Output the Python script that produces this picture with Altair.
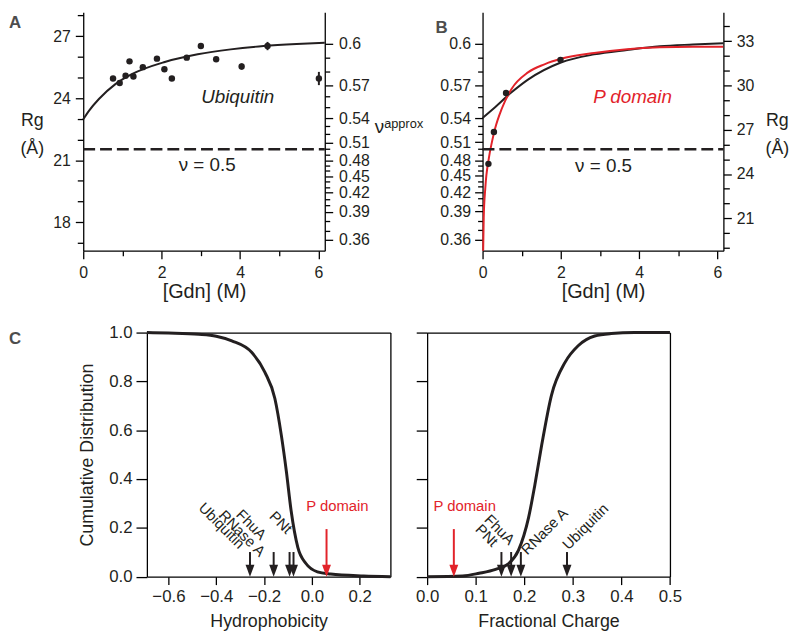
import altair as alt
import pandas as pd

# ---------------- data ----------------
# Panel A : Ubiquitin, Rg (Å) versus [Gdn] (M)
a_gdn = [0.76, 0.93, 1.08, 1.18, 1.28, 1.52, 1.88, 2.07, 2.26, 2.64, 3.00, 3.39, 4.04, 4.70, 6.01]
a_rg = [24.95, 24.73, 25.08, 25.78, 25.05, 25.50, 25.91, 25.40, 24.95, 25.96, 26.52, 25.88, 25.53, 26.52, 24.95]
a_err = [0.05, 0.05, 0.05, 0.05, 0.05, 0.05, 0.05, 0.05, 0.05, 0.05, 0.07, 0.07, 0.15, 0.20, 0.32]
a_fit_gdn = [0.0, 0.15, 0.4, 0.82, 1.24, 2.08, 2.92, 3.76, 4.6, 5.44, 6.16]
a_fit_rg = [22.98, 23.40, 23.96, 24.68, 25.16, 25.75, 26.12, 26.36, 26.52, 26.62, 26.68]
a_nu_half_rg = 21.53

# Panel B : P domain
b_gdn = [0.15, 0.29, 0.60, 1.99]
b_rg = [24.69, 26.85, 29.49, 31.73]
b_black_gdn = [0.0, 0.32, 0.74, 1.16, 2.0, 2.85, 3.69, 4.53, 5.37, 6.15]
b_black_rg = [27.79, 28.53, 29.53, 30.39, 31.55, 32.10, 32.40, 32.65, 32.77, 32.86]
b_red_gdn = [0.01, 0.03, 0.07, 0.16, 0.24, 0.32, 0.49, 0.74, 1.16, 1.58, 2.0, 2.85, 3.69, 4.53, 5.37, 6.15]
b_red_rg = [18.0, 21.04, 23.05, 25.06, 26.18, 27.08, 28.42, 29.76, 30.88, 31.43, 31.80, 32.20, 32.45, 32.58, 32.62, 32.62]
b_nu_half_rg = 25.68

# nu (approx) tick labels and where they sit on each Rg axis
nu_labels = ["0.6", "0.57", "0.54", "0.51", "0.48", "0.45", "0.42", "0.39", "0.36"]
a_nu_rg = [26.65, 24.60, 23.02, 21.86, 20.98, 20.23, 19.44, 18.51, 17.14]
b_nu_rg = [32.84, 29.98, 27.77, 26.15, 24.91, 23.87, 22.77, 21.46, 19.55]

# Panel C : cumulative distributions
hyd_x = [-0.69, -0.6, -0.473, -0.4, -0.335, -0.252, -0.197, -0.155, -0.128, -0.107,
         -0.087, -0.059, -0.025, 0.023, 0.078, 0.216, 0.328]
hyd_cdf = [1.0, 0.998, 0.993, 0.985, 0.966, 0.919, 0.838, 0.73, 0.58, 0.432,
           0.27, 0.12, 0.054, 0.02, 0.011, 0.003, 0.0]
chg_x = [0.0, 0.073, 0.107, 0.141, 0.168, 0.188, 0.209, 0.222, 0.236, 0.256,
         0.284, 0.311, 0.345, 0.379, 0.427, 0.5]
chg_cdf = [0.0, 0.003, 0.014, 0.03, 0.054, 0.108, 0.243, 0.378, 0.54, 0.743,
           0.878, 0.946, 0.986, 0.996, 1.0, 1.0]
proteins = ["Ubiquitin", "RNase A", "FhuA", "PNt"]
prot_hyd = [-0.259, -0.160, -0.0935, -0.077]
prot_chg = [0.288, 0.193, 0.173, 0.153]
pdom_name = "P domain"
pdom_hyd = 0.061
pdom_chg = 0.055

# ---------------- style ----------------
FONT = "Liberation Sans"
LETTER_FONT = "Liberation Sans Narrow, Liberation Sans"
INK = "#231f20"
RED = "#e2232a"
LETTER = "#4d4d4d"
ARROW = "M-0.75,-2L0.75,-2L0,0Z"

A_X = [0, 6.16]
A_Y = [16.62, 28.16]
B_X = [0, 6.15]
B_Y = [18.81, 34.96]
H_TOP = 241
H_BOT = 246.6


def cond(test, major, minor):
    return {"condition": {"test": test, "value": major}, "value": minor}


def nu_expr(pos):
    s = " : ".join(f"datum.value == {p} ? '{l}'" for p, l in zip(pos, nu_labels))
    return s + " : ''"


def nu_minor(pos):
    out = []
    for p0, p1 in zip(pos[:-1], pos[1:]):
        out += [round(p0 + (p1 - p0) / 3, 4), round(p0 + 2 * (p1 - p0) / 3, 4)]
    return out


def nu_axis(pos, orient, pad, **kw):
    majors = ",".join(str(p) for p in pos)
    return alt.Axis(orient=orient, values=pos + nu_minor(pos), labelExpr=nu_expr(pos),
                    tickSize=cond(f"indexof([{majors}], datum.value) >= 0", 8, 5),
                    labelPadding=pad, labelFontSize=16, **kw)


def gdn_axis():
    return alt.Axis(title="[Gdn] (M)", values=list(range(7)),
                    labelExpr="datum.value % 2 == 0 ? datum.label : ''",
                    tickSize=cond("datum.value % 2 == 0", 8, 5), labelPadding=6,
                    labelFontSize=16, titleFontSize=20, titlePadding=1)


def rg_axis(lo, hi, orient, **kw):
    return alt.Axis(orient=orient, values=list(range(lo, hi + 1)),
                    labelExpr="datum.value % 3 == 0 ? datum.label : ''",
                    tickSize=cond("datum.value % 3 == 0", 8, 6), labelPadding=5,
                    labelFontSize=16, title=["Rg", "(Å)"], titleAngle=0, titleAlign="center",
                    titleBaseline="top", titleLineHeight=28, titleFontSize=18, **kw)


def letter(t, dx):
    return alt.TitleParams(t, anchor="start", frame="group", dx=dx, dy=42, offset=0,
                           baseline="bottom", fontSize=17, fontWeight="bold",
                           font=LETTER_FONT, color=LETTER)


# ---------------- panel A ----------------
dfA = pd.DataFrame({"gdn": a_gdn, "rg": a_rg,
                    "lo": [r - e for r, e in zip(a_rg, a_err)],
                    "hi": [r + e for r, e in zip(a_rg, a_err)]})
dfAfit = pd.DataFrame({"gdn": a_fit_gdn, "rg": a_fit_rg})
sxA = alt.Scale(domain=A_X, nice=False, zero=False)
syA = alt.Scale(domain=A_Y, nice=False, zero=False)
axA_x = gdn_axis()
axA_y = rg_axis(17, 28, "left", titleX=-52, titleY=101)
XA = lambda f: alt.X(f, scale=sxA, axis=axA_x)
YA = lambda f: alt.Y(f, scale=syA, axis=axA_y)


def noteA(x, y, t, color=INK, style="normal"):
    return alt.Chart(pd.DataFrame({"gdn": [x], "rg": [y], "t": [t]})).mark_text(
        font=FONT, fontSize=19, color=color, fontStyle=style, align="center",
        baseline="middle").encode(x=XA("gdn:Q"), y=YA("rg:Q"), text="t:N")


a_line = alt.Chart(dfAfit).mark_line(color=INK, strokeWidth=2, interpolate="monotone").encode(
    x=XA("gdn:Q"), y=YA("rg:Q"))
a_err_l = alt.Chart(dfA).mark_rule(color=INK, strokeWidth=2).encode(
    x=XA("gdn:Q"), y=YA("lo:Q"), y2="hi:Q")
a_pts = alt.Chart(dfA).mark_circle(color=INK, opacity=1, size=42).encode(
    x=XA("gdn:Q"), y=YA("rg:Q"))
a_t1 = noteA(3.94, 24.04, "Ubiquitin", style="italic")
a_t2 = noteA(3.16, 20.74, "ν = 0.5")
a_dash = alt.Chart(pd.DataFrame({"gdn": [A_X[0]], "x1": [A_X[1]], "rg": [a_nu_half_rg]})).mark_rule(
    color=INK, strokeWidth=2.5, strokeDash=[12, 5]).encode(
    x=XA("gdn:Q"), x2="x1:Q",
    y=alt.Y("rg:Q", scale=syA, axis=nu_axis(a_nu_rg, "right", 6, title="νᵃᵖᵖʳᵒˣ", titleAngle=0,
                                          titleAlign="left", titleBaseline="middle",
                                          titleX=50, titleY=116, titleFontSize=19)))
panelA = alt.layer(alt.layer(a_line, a_err_l, a_pts, a_t1, a_t2), a_dash).resolve_scale(
    y="independent").properties(width=244, height=H_TOP, title=letter("A", -75))

# ---------------- panel B ----------------
B_OFF = 56
sxB = alt.Scale(domain=B_X, range=[B_OFF, B_OFF + 243.3], nice=False, zero=False)
syB = alt.Scale(domain=B_Y, nice=False, zero=False)
axB_x = gdn_axis()
axB_y = rg_axis(19, 34, "right", titleX=54, titleY=101)
XB = lambda f: alt.X(f, scale=sxB, axis=axB_x)
YB = lambda f: alt.Y(f, scale=syB, axis=axB_y)


def noteB(x, y, t, color=INK, style="normal"):
    return alt.Chart(pd.DataFrame({"gdn": [x], "rg": [y], "t": [t]})).mark_text(
        font=FONT, fontSize=19, color=color, fontStyle=style, align="center",
        baseline="middle").encode(x=XB("gdn:Q"), y=YB("rg:Q"), text="t:N")


dfBblk = pd.DataFrame({"gdn": b_black_gdn, "rg": b_black_rg})
dfBred = pd.DataFrame({"gdn": b_red_gdn, "rg": b_red_rg})
dfB = pd.DataFrame({"gdn": b_gdn, "rg": b_rg})

b_blk = alt.Chart(dfBblk).mark_line(color=INK, strokeWidth=2, interpolate="monotone").encode(
    x=XB("gdn:Q"), y=YB("rg:Q"))
b_red = alt.Chart(dfBred).mark_line(color=RED, strokeWidth=2, interpolate="monotone", clip=True).encode(
    x=XB("gdn:Q"), y=YB("rg:Q"))
b_pts = alt.Chart(dfB).mark_circle(color=INK, opacity=1, size=42).encode(
    x=XB("gdn:Q"), y=YB("rg:Q"))
b_t1 = noteB(3.83, 29.2, "P domain", color=RED, style="italic")
b_t2 = noteB(3.09, 24.51, "ν = 0.5")
b_dash = alt.Chart(pd.DataFrame({"gdn": [B_X[0]], "x1": [B_X[1]], "rg": [b_nu_half_rg]})).mark_rule(
    color=INK, strokeWidth=2.5, strokeDash=[12, 5]).encode(
    x=XB("gdn:Q"), x2="x1:Q",
    y=alt.Y("rg:Q", scale=syB, axis=nu_axis(b_nu_rg, "left", 4, title=None, offset=-B_OFF)))
panelB = alt.layer(alt.layer(b_blk, b_red, b_pts, b_t1, b_t2), b_dash).resolve_scale(
    y="independent").properties(width=B_OFF + 243.3, height=H_TOP, title=letter("B", 8.5))


# ---------------- panel C ----------------
def c_panel(xs, ys, xdom, xrange, width, xvals, xtitle, ylabels, names, pos, pd_pos,
            label_style, title=None):
    sx = alt.Scale(domain=xdom, range=xrange, nice=False, zero=False)
    sy = alt.Scale(domain=[0, 1], nice=False, zero=False)
    off = xrange[0]
    yaxis = alt.Axis(values=[0, 0.2, 0.4, 0.6, 0.8, 1.0], format=".1f", tickSize=11,
                     labelPadding=4, labelFontSize=17, labels=ylabels, offset=-off,
                     title="Cumulative Distribution" if ylabels else None,
                     titleFontSize=18, titlePadding=12)
    xaxis = alt.Axis(values=xvals, format=".1f", tickSize=8, labelPadding=4, labelFontSize=17,
                     title=xtitle, titleFontSize=18, titlePadding=8)
    X = lambda f: alt.X(f, scale=sx, axis=xaxis)
    Y = lambda f: alt.Y(f, scale=sy, axis=yaxis)
    df = pd.DataFrame({"x": xs, "y": ys})
    curve = alt.Chart(df).mark_line(color=INK, strokeWidth=3, interpolate="monotone").encode(
        x=X("x:Q"), y=Y("y:Q"))
    arr = pd.DataFrame({"x": pos + [pd_pos], "name": names + [pdom_name],
                        "y": [0.101] * len(pos) + [0.195], "tip": 0.0, "end": 0.04,
                        "c": [INK] * len(pos) + [RED]})
    shafts = alt.Chart(arr).mark_rule(strokeWidth=2).encode(
        x=X("x:Q"), y=Y("y:Q"), y2="end:Q", color=alt.Color("c:N", scale=None))
    heads = alt.Chart(arr).mark_point(shape=ARROW, size=144, filled=True, opacity=1).encode(
        x=X("x:Q"), y=Y("tip:Q"), color=alt.Color("c:N", scale=None))
    layers = [curve, shafts, heads]
    for n, p in zip(names, pos):
        ang, al, dx, dy = label_style[n]
        layers.append(alt.Chart(pd.DataFrame({"x": [p], "y": [0.101], "t": [n]})).mark_text(
            font=FONT, fontSize=15, color=INK, angle=ang, align=al, baseline="middle",
            xOffset=dx, yOffset=dy).encode(x=X("x:Q"), y=Y("y:Q"), text="t:N"))
    layers.append(alt.Chart(pd.DataFrame({"x": [pd_pos], "y": [0.195], "t": [pdom_name]})).mark_text(
        font=FONT, fontSize=15, color=RED, align="center", baseline="middle",
        xOffset=11, yOffset=-23).encode(x=X("x:Q"), y=Y("y:Q"), text="t:N"))
    border = alt.Chart(df).mark_point(opacity=0).encode(
        x=alt.X("x:Q", scale=alt.Scale(domain=xdom, range=xrange, nice=False, zero=False),
                axis=alt.Axis(orient="top", ticks=False, labels=False, title=None)),
        y=alt.Y("y:Q", scale=alt.Scale(domain=[0, 1], nice=False, zero=False),
                axis=alt.Axis(orient="right", ticks=False, labels=False, title=None)))
    ch = alt.layer(alt.layer(*layers), border).resolve_scale(x="independent", y="independent")
    props = dict(width=width, height=H_BOT)
    if title is not None:
        props["title"] = title
    return ch.properties(**props)


C1_OFF = 64.3
c1_style = {"Ubiquitin": (45, "right", -8, -6), "RNase A": (45, "right", -11, 2),
            "FhuA": (45, "right", -26, -15), "PNt": (45, "right", -4, -21)}
c2_style = {"PNt": (45, "right", -6, -8), "FhuA": (45, "right", 1, -10),
            "RNase A": (315, "left", 3, 0), "Ubiquitin": (315, "left", -2, -5)}

panelC1 = c_panel(hyd_x, hyd_cdf, [-0.69, 0.328], [C1_OFF, C1_OFF + 246], C1_OFF + 246,
                  [-0.6, -0.4, -0.2, 0.0, 0.2], "Hydrophobicity", True, proteins, prot_hyd,
                  pdom_hyd, c1_style, title=letter("C", -75))
panelC2 = c_panel(chg_x, chg_cdf, [0, 0.5], [0, 245.3], 245.3,
                  [0.0, 0.1, 0.2, 0.3, 0.4, 0.5], "Fractional Charge", False, proteins, prot_chg,
                  pdom_chg, c2_style)

chart = alt.concat(panelA, panelB, panelC1, panelC2, columns=2,
                   spacing={"row": 76.7, "column": 36.4}, bounds="flush", align="all").properties(
    autosize=alt.AutoSizeParams(type="none"),
    padding={"left": 76, "top": 1, "right": 716, "bottom": 624},
).configure_view(stroke=None).configure_axis(
    labelFont=FONT, titleFont=FONT, labelColor=INK, titleColor=INK, domainColor="#000",
    tickColor="#000", domainWidth=1.3, tickWidth=1.3, grid=False, titleFontWeight="normal",
    labelFlush=False, labelOverlap=False)

chart.save("out.html", embed_options={"renderer": "svg", "actions": False})
